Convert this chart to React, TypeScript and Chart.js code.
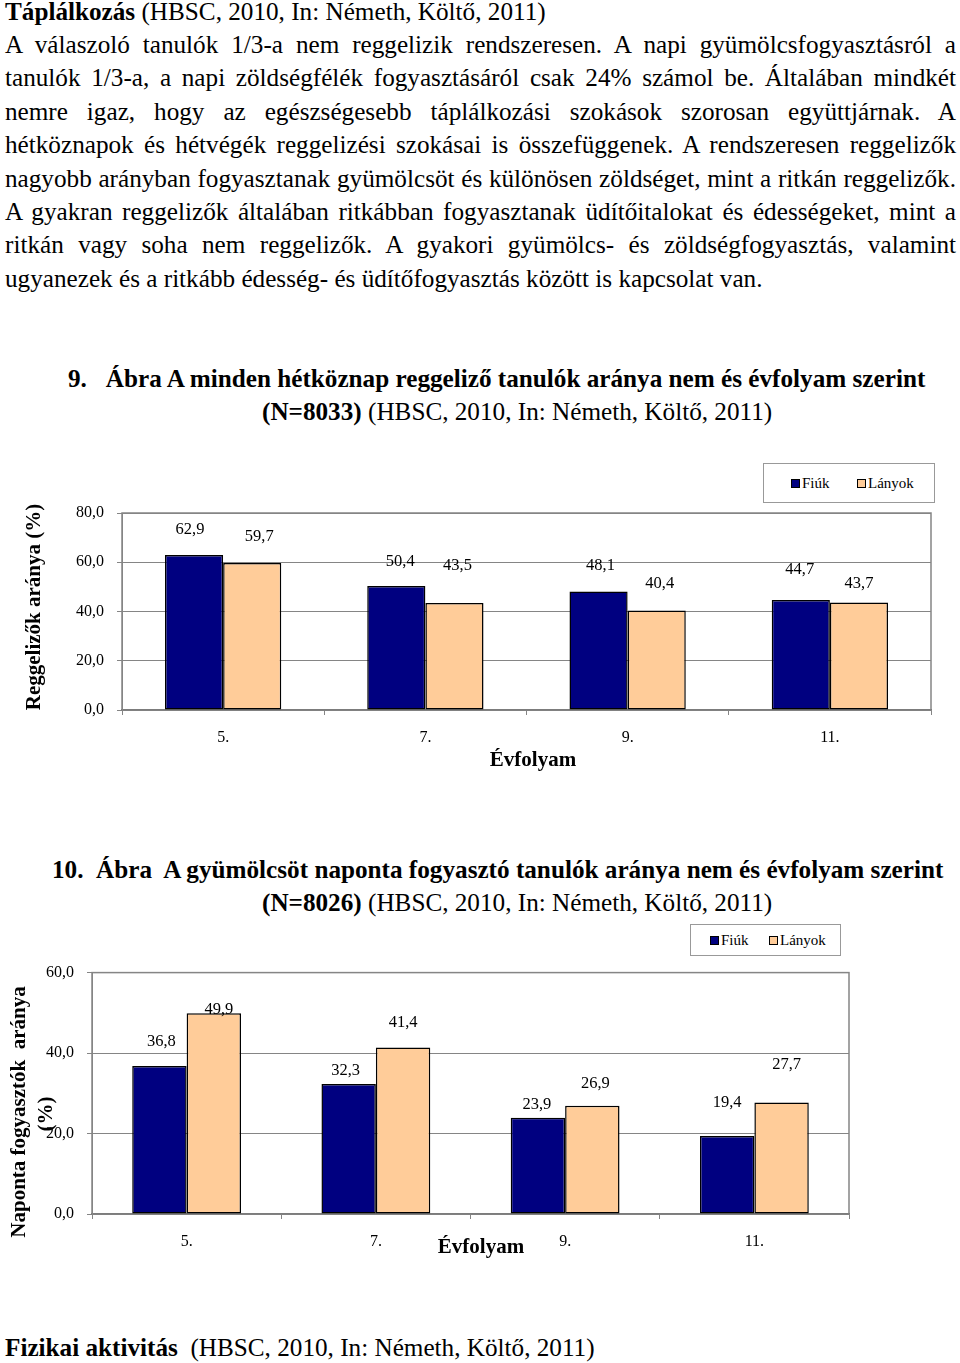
import React, { useEffect, useRef } from 'react';
import { Chart, registerables } from 'chart.js';

Chart.register(...registerables);

// ---------- data ----------
const grades = ['5.', '7.', '9.', '11.'];
const seriesNames = ['Fiúk', 'Lányok'];
const breakfastBoys = [62.9, 50.4, 48.1, 44.7];
const breakfastGirls = [59.7, 43.5, 40.4, 43.7];
const fruitBoys = [36.8, 32.3, 23.9, 19.4];
const fruitGirls = [49.9, 41.4, 26.9, 27.7];
const breakfastAxisMax = 80;
const fruitAxisMax = 60;
const axisStep = 20;

const bodyLines = [
  'A válaszoló tanulók 1/3-a nem reggelizik rendszeresen. A napi gyümölcsfogyasztásról a',
  'tanulók 1/3-a, a napi zöldségfélék fogyasztásáról csak 24% számol be. Általában mindkét',
  'nemre igaz, hogy az egészségesebb táplálkozási szokások szorosan együttjárnak. A',
  'hétköznapok és hétvégék reggelizési szokásai is összefüggenek. A rendszeresen reggelizők',
  'nagyobb arányban fogyasztanak gyümölcsöt és különösen zöldséget, mint a ritkán reggelizők.',
  'A gyakran reggelizők általában ritkábban fogyasztanak üdítőitalokat és édességeket, mint a',
  'ritkán vagy soha nem reggelizők. A gyakori gyümölcs- és zöldségfogyasztás, valamint',
  'ugyanezek és a ritkább édesség- és üdítőfogyasztás között is kapcsolat van.',
];

// ---------- styles ----------
const SERIF = '"Liberation Serif", "Times New Roman", serif';
const BOY_COLOR = '#000080';
const GIRL_COLOR = '#FFCC99';
const GRID = '#858585';
const TEXT_SIZE = 25.2;

// label nudges relative to bar top centre [dx, dy] per dataset/category
const breakfastNudge = [
  [[-4, -25], [4, -24], [2, -26], [-1, -30]],
  [[7, -26], [3, -37], [3, -27], [0, -19]],
];
const fruitNudge = [
  [[2, -24], [-3, -13], [-1, -13], [0, -33]],
  [[5, -4], [0, -25], [3, -22], [5, -38]],
];

const fmt = (v: number) => v.toFixed(1).replace('.', ',');

type TextItem = { text: string; x: number; y: number; font: string; rot?: number };

function makeChart(
  canvas: HTMLCanvasElement,
  cfg: {
    boys: number[];
    girls: number[];
    max: number;
    pad: { top: number; right: number };
    yWidth: number;
    xHeight: number;
    nudge: number[][][];
    texts: TextItem[];
  }
) {
  const labelPlugin = {
    id: 'valLabels',
    beforeDatasetsDraw(chart: any) {
      const { ctx, chartArea } = chart;
      ctx.save();
      ctx.strokeStyle = GRID;
      ctx.lineWidth = 1.5;
      ctx.strokeRect(chartArea.left, chartArea.top, chartArea.right - chartArea.left, chartArea.bottom - chartArea.top);
      ctx.restore();
    },
    afterDatasetsDraw(chart: any) {
      const { ctx } = chart;
      ctx.save();
      ctx.font = `16.5px ${SERIF}`;
      ctx.fillStyle = '#000';
      ctx.textAlign = 'center';
      ctx.textBaseline = 'middle';
      chart.data.datasets.forEach((ds: any, i: number) => {
        const meta = chart.getDatasetMeta(i);
        meta.data.forEach((bar: any, j: number) => {
          const [dx, dy] = cfg.nudge[i][j];
          ctx.fillText(fmt(ds.data[j]), bar.x + dx, bar.y + dy);
        });
      });
      ctx.restore();
    },
    afterDraw(chart: any) {
      const { ctx } = chart;
      cfg.texts.forEach((t) => {
        ctx.save();
        ctx.font = t.font;
        ctx.fillStyle = '#000';
        ctx.textAlign = 'center';
        ctx.textBaseline = 'middle';
        ctx.translate(t.x, t.y);
        if (t.rot) ctx.rotate(t.rot);
        ctx.fillText(t.text, 0, 0);
        ctx.restore();
      });
    },
  };

  return new Chart(canvas, {
    type: 'bar',
    data: {
      labels: grades,
      datasets: [
        {
          label: seriesNames[0],
          data: cfg.boys,
          backgroundColor: BOY_COLOR,
          borderColor: '#000',
          borderWidth: 1.5,
          borderSkipped: false,
          categoryPercentage: 0.575,
          barPercentage: 1,
        },
        {
          label: seriesNames[1],
          data: cfg.girls,
          backgroundColor: GIRL_COLOR,
          borderColor: '#000',
          borderWidth: 1.5,
          borderSkipped: false,
          categoryPercentage: 0.575,
          barPercentage: 1,
        },
      ],
    },
    options: {
      responsive: false,
      animation: false,
      layout: { padding: { top: cfg.pad.top, right: cfg.pad.right, left: 0, bottom: 0 } },
      plugins: { legend: { display: false }, tooltip: { enabled: false } },
      scales: {
        x: {
          grid: { display: true, drawOnChartArea: false, drawTicks: true, tickLength: 5, color: GRID },
          border: { color: '#666', width: 1.5 },
          ticks: { font: { family: SERIF, size: 16 }, color: '#000', padding: 13, maxRotation: 0 },
          afterFit: (s: any) => {
            s.height = cfg.xHeight;
          },
        },
        y: {
          min: 0,
          max: cfg.max,
          ticks: {
            stepSize: axisStep,
            font: { family: SERIF, size: 16 },
            color: '#000',
            padding: 13,
            callback: (v: any) => fmt(Number(v)),
          },
          grid: { color: GRID, tickLength: 5 },
          border: { color: GRID },
          afterFit: (s: any) => {
            s.width = cfg.yWidth;
          },
        },
      },
    },
    plugins: [labelPlugin],
  } as any);
}

function ChartCanvas(props: {
  top: number;
  height: number;
  areaBottom: number;
  boys: number[];
  girls: number[];
  max: number;
  pad: { top: number; right: number };
  yWidth: number;
  nudge: number[][][];
  texts: TextItem[];
}) {
  const ref = useRef<HTMLCanvasElement>(null);
  useEffect(() => {
    if (!ref.current) return;
    const chart = makeChart(ref.current, {
      boys: props.boys,
      girls: props.girls,
      max: props.max,
      pad: props.pad,
      yWidth: props.yWidth,
      xHeight: props.height - props.areaBottom,
      nudge: props.nudge,
      texts: props.texts,
    });
    return () => chart.destroy();
  }, []);
  return (
    <canvas
      ref={ref}
      width={960}
      height={props.height}
      style={{ position: 'absolute', left: 0, top: props.top, width: 960, height: props.height }}
    />
  );
}

function Legend(props: { left: number; top: number; width: number; height: number; sq: number[]; tx: number[] }) {
  const colors = [BOY_COLOR, GIRL_COLOR];
  return (
    <div
      style={{
        position: 'absolute',
        left: props.left,
        top: props.top,
        width: props.width,
        height: props.height,
        border: '1px solid #999',
        boxSizing: 'border-box',
        fontSize: 15,
      }}
    >
      {seriesNames.map((n, i) => (
        <React.Fragment key={n}>
          <div
            style={{
              position: 'absolute',
              left: props.sq[i] - props.left,
              top: props.height / 2 - 5.5,
              width: 9,
              height: 9,
              background: colors[i],
              border: '1px solid #000',
              boxSizing: 'border-box',
            }}
          />
          <div
            style={{
              position: 'absolute',
              left: props.tx[i] - props.left,
              top: 0,
              height: props.height - 2,
              lineHeight: `${props.height - 2}px`,
              whiteSpace: 'pre',
            }}
          >
            {n}
          </div>
        </React.Fragment>
      ))}
    </div>
  );
}

function Line(props: { left: number; cy: number; width?: number; size: number; justify?: boolean; children: any }) {
  return (
    <div
      style={{
        position: 'absolute',
        left: props.left,
        top: props.cy - 17,
        width: props.width,
        height: 34,
        lineHeight: '34px',
        fontSize: props.size,
        textAlign: props.justify ? 'justify' : 'left',
        textAlignLast: props.justify ? 'justify' : 'auto',
        wordSpacing: props.justify ? '-2px' : undefined,
        whiteSpace: props.justify ? 'normal' : 'pre',
      } as any}
    >
      {props.children}
    </div>
  );
}

export default function App() {
  const bodyCenters = [45, 78, 112, 145, 179, 212, 245, 279];
  return (
    <div
      style={{
        position: 'absolute',
        left: 0,
        top: 0,
        width: 960,
        height: 1363,
        background: '#fff',
        color: '#000',
        fontFamily: SERIF,
        overflow: 'hidden',
      }}
    >
      <Line left={5} cy={12} size={TEXT_SIZE}>
        <b>Táplálkozás</b> (HBSC, 2010, In: Németh, Költő, 2011)
      </Line>
      {bodyLines.map((l, i) => (
        <Line key={i} left={5} cy={bodyCenters[i]} width={951} size={TEXT_SIZE} justify={i < bodyLines.length - 1}>
          {l}
        </Line>
      ))}

      <Line left={68} cy={379} size={TEXT_SIZE}>
        <b>{'9.   Ábra A minden hétköznap reggeliző tanulók aránya nem és évfolyam szerint'}</b>
      </Line>
      <Line left={262} cy={412} size={TEXT_SIZE}>
        <b>(N=8033)</b> (HBSC, 2010, In: Németh, Költő, 2011)
      </Line>

      <Legend left={763} top={463} width={172} height={40} sq={[790, 856]} tx={[801, 867]} />
      <ChartCanvas
        top={490}
        height={290}
        areaBottom={220}
        boys={breakfastBoys}
        girls={breakfastGirls}
        max={breakfastAxisMax}
        pad={{ top: 23, right: 29 }}
        yWidth={122}
        nudge={breakfastNudge}
        texts={[
          { text: 'Évfolyam', x: 533, y: 271, font: `bold 21px ${SERIF}` },
          { text: 'Reggelizők aránya (%)', x: 35, y: 117, font: `bold 21px ${SERIF}`, rot: -Math.PI / 2 },
        ]}
      />

      <Line left={52} cy={870} size={TEXT_SIZE}>
        <b>{'10.  Ábra  A gyümölcsöt naponta fogyasztó tanulók aránya nem és évfolyam szerint'}</b>
      </Line>
      <Line left={262} cy={903} size={TEXT_SIZE}>
        <b>(N=8026)</b> (HBSC, 2010, In: Németh, Költő, 2011)
      </Line>

      <Legend left={690} top={924} width={151} height={32} sq={[709, 768]} tx={[720, 779]} />
      <ChartCanvas
        top={950}
        height={320}
        areaBottom={264}
        boys={fruitBoys}
        girls={fruitGirls}
        max={fruitAxisMax}
        pad={{ top: 20, right: 111 }}
        yWidth={92}
        nudge={fruitNudge}
        texts={[
          { text: 'Évfolyam', x: 481, y: 298, font: `bold 21px ${SERIF}` },
          { text: 'Naponta fogyasztók  aránya', x: 20, y: 162, font: `bold 21px ${SERIF}`, rot: -Math.PI / 2 },
          { text: '(%)', x: 47, y: 164, font: `bold 21px ${SERIF}`, rot: -Math.PI / 2 },
        ]}
      />

      <Line left={5} cy={1348} size={TEXT_SIZE}>
        <b>Fizikai aktivitás</b> {' (HBSC, 2010, In: Németh, Költő, 2011)'}
      </Line>
    </div>
  );
}
